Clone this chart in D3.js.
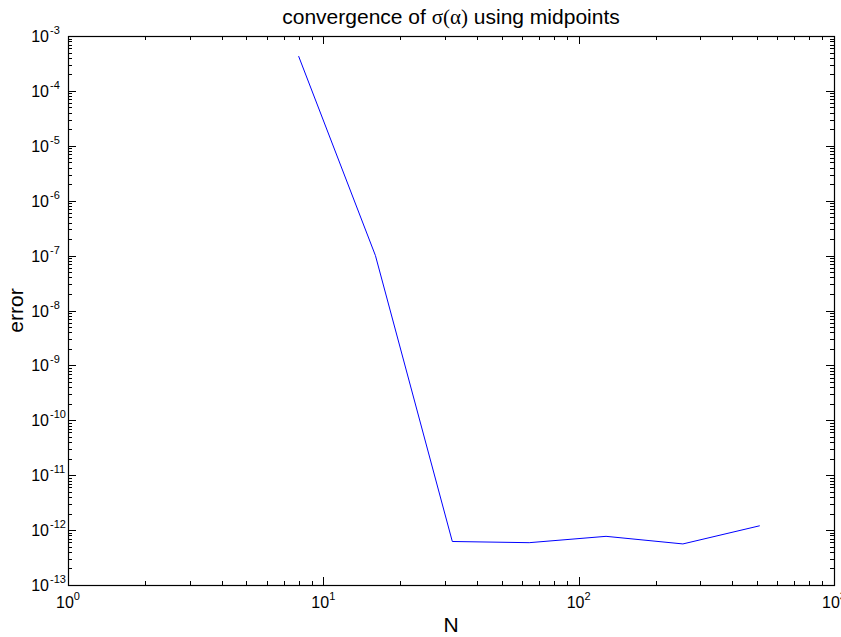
<!DOCTYPE html>
<html>
<head>
<meta charset="utf-8">
<script src="https://cdn.jsdelivr.net/npm/d3@7"></script>
<style>
  body { margin: 0; background: #fff; }
  text { font-family: "Liberation Sans", Arial, sans-serif; fill: #000; }
</style>
</head>
<body>
<svg id="plot"></svg>
<script>
// Data
var nValues = [8, 16, 32, 64, 128, 256, 512];
var errValues = [4.3e-4, 1.0e-7, 6.2e-13, 5.9e-13, 7.7e-13, 5.6e-13, 1.2e-12];
var xDecades = [0, 1, 2, 3];
var yDecades = [-13, -12, -11, -10, -9, -8, -7, -6, -5, -4, -3];

var W = 841, H = 637,
    padL = 68, padR = 834, padT = 36, padB = 585,
    majorLen = 8, minorLen = 4;

var svg = d3.select("#plot").attr("width", W).attr("height", H);

var x = d3.scaleLog().domain([1, 1000]).range([padL, padR]);
var y = d3.scaleLog().domain([1e-13, 1e-3]).range([padB, padT]);

// minor ticks in each decade
function minorTicks(decades) {
    var out = [];
    decades.slice(0, -1).forEach(function (e) {
        for (var k = 2; k <= 9; k++) out.push(k * Math.pow(10, e));
    });
    return out;
}

var g = svg.append("g");

// x ticks, top and bottom, pointing inwards
var xt = [];
xDecades.forEach(function (e) { xt.push({ v: Math.pow(10, e), len: majorLen }); });
minorTicks(xDecades).forEach(function (v) { xt.push({ v: v, len: minorLen }); });
xt.forEach(function (d) {
    var px = Math.round(x(d.v)) + 0.5;
    g.append("line").attr("x1", px).attr("x2", px).attr("y1", padB).attr("y2", padB - d.len).attr("stroke", "#000");
    g.append("line").attr("x1", px).attr("x2", px).attr("y1", padT).attr("y2", padT + d.len).attr("stroke", "#000");
});

var yt = [];
yDecades.forEach(function (e) { yt.push({ v: Math.pow(10, e), len: majorLen }); });
minorTicks(yDecades).forEach(function (v) { yt.push({ v: v, len: minorLen }); });
yt.forEach(function (d) {
    var py = Math.round(y(d.v)) + 0.5;
    g.append("line").attr("y1", py).attr("y2", py).attr("x1", padL).attr("x2", padL + d.len).attr("stroke", "#000");
    g.append("line").attr("y1", py).attr("y2", py).attr("x1", padR).attr("x2", padR - d.len).attr("stroke", "#000");
});

// box
g.append("rect")
    .attr("x", padL + 0.5).attr("y", padT + 0.5)
    .attr("width", padR - padL).attr("height", padB - padT)
    .attr("fill", "none").attr("stroke", "#000").attr("stroke-width", 1.2);

// x tick labels
xDecades.forEach(function (e) {
    var t = svg.append("text")
        .attr("x", x(Math.pow(10, e)))
        .attr("y", padB + 23)
        .attr("text-anchor", "middle")
        .style("font-size", "16px");
    t.append("tspan").text("10");
    t.append("tspan").attr("dy", -8).style("font-size", "11px").text(e);
});

// y tick labels
yDecades.forEach(function (e) {
    var py = y(Math.pow(10, e));
    svg.append("text")
        .attr("x", 49).attr("y", py + 6)
        .attr("text-anchor", "end")
        .style("font-size", "16px")
        .text("10");
    svg.append("text")
        .attr("x", 50).attr("y", py - 2)
        .style("font-size", "11px")
        .text(e);
});

// data line
var line = d3.line()
    .x(function (d, i) { return x(nValues[i]); })
    .y(function (d) { return y(d); });

svg.append("path")
    .datum(errValues)
    .attr("d", line)
    .attr("fill", "none")
    .attr("stroke", "#0000ff")
    .attr("stroke-width", 1);

// title
var title = svg.append("text")
    .attr("x", (padL + padR) / 2)
    .attr("y", 24)
    .attr("text-anchor", "middle")
    .style("font-size", "21px");
title.append("tspan").text("convergence of ");
title.append("tspan").style("font-family", "'Liberation Serif', serif").text("σ(α)");
title.append("tspan").text(" using midpoints");

// axis labels
svg.append("text")
    .attr("x", (padL + padR) / 2)
    .attr("y", 632)
    .attr("text-anchor", "middle")
    .style("font-size", "21px")
    .text("N");

svg.append("text")
    .attr("transform", "translate(23," + ((padT + padB) / 2) + ") rotate(-90)")
    .attr("text-anchor", "middle")
    .style("font-size", "21px")
    .text("error");
</script>
</body>
</html>
